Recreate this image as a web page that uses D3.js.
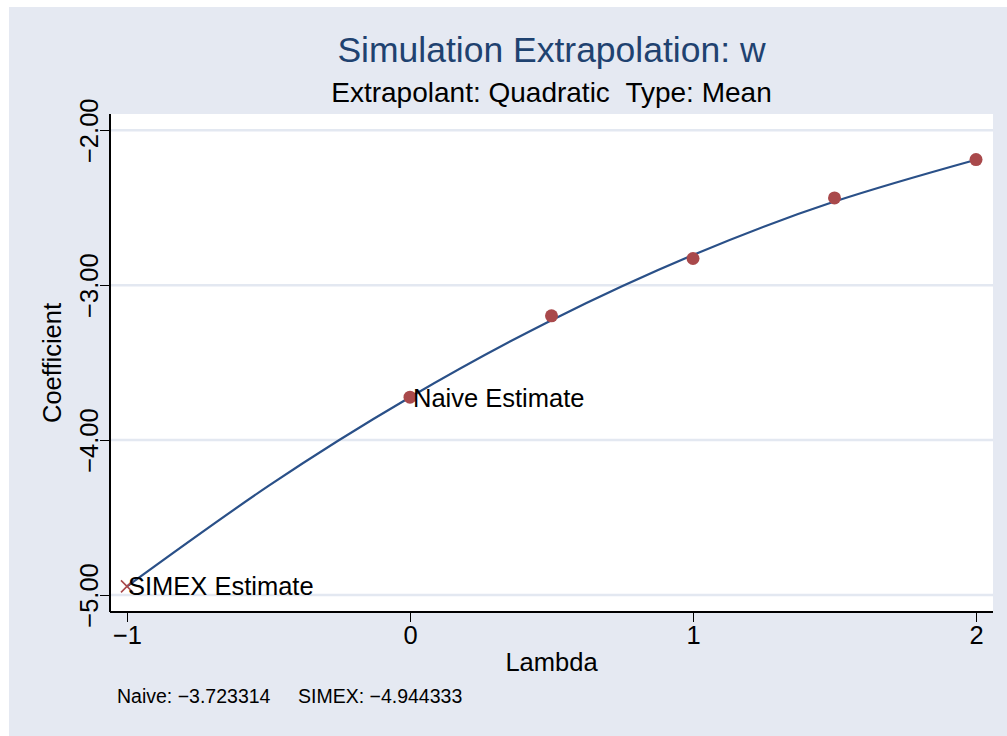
<!DOCTYPE html>
<meta charset="utf-8">
<script src="https://d3js.org/d3.v7.min.js"></script>
<style>
body { margin: 0; background: #fff; }
text { font-family: "Liberation Sans", Arial, Helvetica, sans-serif; fill: #000; }
.axis path, .axis line { stroke: #000; stroke-width: 1.3px; shape-rendering: crispEdges; }
.grid line { stroke: #e3e8f1; stroke-width: 2.5px; }
</style>
<div id="plot"></div>
<script>
// simulated estimates at each lambda
var lambdas = [0, 0.5, 1, 1.5, 2];
var coefs = [-3.723314, -3.198, -2.828, -2.437, -2.189];

// extrapolated quadratic curve
var curveLambda = [-1, -0.5, 0, 0.5, 1, 1.5, 2];
var curveCoef = [-4.944333, -4.296, -3.723314, -3.226, -2.805, -2.460, -2.190];

var simexLambda = -1, simexCoef = -4.944333;
var naiveLambda = 0, naiveCoef = -3.723314;

var xTicks = [-1, 0, 1, 2];
var yTicks = [-5, -4, -3, -2];

var W = 1007, H = 736;
var margin = {top: 114, right: 14, bottom: 124, left: 110},
    width = W - margin.left - margin.right,
    height = H - margin.top - margin.bottom;

var svg = d3.select("#plot").append("svg")
    .attr("width", W).attr("height", H);

// outer graph region
svg.append("rect")
    .attr("x", 9).attr("y", 7)
    .attr("width", W - 9).attr("height", H - 7)
    .attr("fill", "#e5e9f2");

var g = svg.append("g")
    .attr("transform", "translate(" + margin.left + "," + margin.top + ")");

g.append("rect")
    .attr("width", width).attr("height", height)
    .attr("fill", "#fff");

var x = d3.scaleLinear().domain([-1.06, 2.06]).range([0, width]);
var y = d3.scaleLinear().domain([-5.11, -1.895]).range([height, 0]);

// grid lines
g.append("g").attr("class", "grid")
  .selectAll("line").data(yTicks).enter().append("line")
    .attr("x1", 0).attr("x2", width)
    .attr("y1", function(d) { return y(d); })
    .attr("y2", function(d) { return y(d); });

// axes
var yAxis = d3.axisLeft(y).tickValues(yTicks).tickSize(10).tickSizeOuter(0)
    .tickFormat(function(d) { return d3.format(".2f")(d).replace("-", "\u2212"); });
var xAxis = d3.axisBottom(x).tickValues(xTicks).tickSize(10).tickSizeOuter(0)
    .tickFormat(function(d) { return String(d).replace("-", "\u2212"); });

var ya = g.append("g").attr("class", "axis").call(yAxis);
ya.select(".domain").attr("d", "M0," + height + "V0");
ya.selectAll(".tick text")
    .attr("x", null).attr("dy", null)
    .attr("transform", "translate(-12,0) rotate(-90)")
    .attr("text-anchor", "middle")
    .style("font-size", "25.5px");

var xa = g.append("g").attr("class", "axis")
    .attr("transform", "translate(0," + height + ")").call(xAxis);
xa.select(".domain").attr("d", "M0,0H" + width);
xa.selectAll(".tick text")
    .attr("y", 14).attr("dy", "0.71em")
    .style("font-size", "25.5px");

// fitted curve
g.append("path")
    .datum(curveLambda.map(function(l, i) { return [l, curveCoef[i]]; }))
    .attr("fill", "none")
    .attr("stroke", "#2a5088")
    .attr("stroke-width", 2.2)
    .attr("d", d3.line()
        .x(function(d) { return x(d[0]); })
        .y(function(d) { return y(d[1]); })
        .curve(d3.curveNatural));

// simulated points
g.selectAll(".pt").data(lambdas).enter().append("circle")
    .attr("class", "pt")
    .attr("cx", function(d) { return x(d); })
    .attr("cy", function(d, i) { return y(coefs[i]); })
    .attr("r", 6.5)
    .attr("fill", "#a9494b");

// SIMEX cross
var sx = x(simexLambda), sy = y(simexCoef), s = 6;
g.append("path")
    .attr("d", "M" + (sx - s) + "," + (sy - s) + "L" + (sx + s) + "," + (sy + s) +
               "M" + (sx - s) + "," + (sy + s) + "L" + (sx + s) + "," + (sy - s))
    .attr("stroke", "#a9494b").attr("stroke-width", 1.6);

// marker labels
g.append("text")
    .attr("x", x(naiveLambda) + 3).attr("y", y(naiveCoef) + 10)
    .style("font-size", "25.5px")
    .text("Naive Estimate");
g.append("text")
    .attr("x", sx + 1).attr("y", sy + 9)
    .style("font-size", "25.5px")
    .text("SIMEX Estimate");

// titles
svg.append("text")
    .attr("x", margin.left + width / 2).attr("y", 62)
    .attr("text-anchor", "middle")
    .style("font-size", "35.5px").style("fill", "#1f4270")
    .text("Simulation Extrapolation: w");
svg.append("text")
    .attr("x", margin.left + width / 2).attr("y", 102)
    .attr("text-anchor", "middle")
    .style("font-size", "28px")
    .text("Extrapolant: Quadratic\u00a0\u00a0Type: Mean");

svg.append("text")
    .attr("x", margin.left + width / 2).attr("y", 671)
    .attr("text-anchor", "middle")
    .style("font-size", "25.5px")
    .text("Lambda");
svg.append("text")
    .attr("transform", "translate(61," + (margin.top + height / 2) + ") rotate(-90)")
    .attr("text-anchor", "middle")
    .style("font-size", "25.5px")
    .text("Coefficient");

svg.append("text")
    .attr("x", 117).attr("y", 703)
    .style("font-size", "19.5px")
    .text("Naive: \u22123.723314");
svg.append("text")
    .attr("x", 298).attr("y", 703)
    .style("font-size", "19.5px")
    .text("SIMEX: \u22124.944333");
</script>
